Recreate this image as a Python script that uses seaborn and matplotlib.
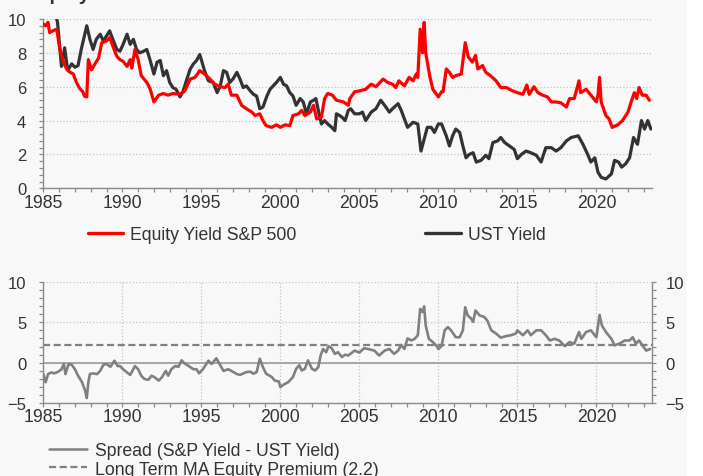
import numpy as np
import pandas as pd
import matplotlib
matplotlib.use("Agg")
import matplotlib.pyplot as plt
import seaborn as sns
from matplotlib.ticker import MultipleLocator
from matplotlib.lines import Line2D
from matplotlib.patches import Rectangle

# ---------------- data ----------------
sp_years = [1985.0, 1985.15, 1985.3, 1985.4, 1985.6, 1985.85, 1986.05, 1986.3, 1986.5, 1986.7,
            1986.9, 1987.1, 1987.3, 1987.5, 1987.6, 1987.75, 1987.85, 1988.05, 1988.3, 1988.5,
            1988.7, 1989.0, 1989.2, 1989.4, 1989.65, 1989.85, 1990.05, 1990.3, 1990.5, 1990.6,
            1990.8, 1991.0, 1991.2, 1991.55, 1991.75, 1992.0, 1992.3, 1992.6, 1992.9, 1993.2,
            1993.65, 1993.95, 1994.3, 1994.6, 1994.9, 1995.2, 1995.55, 1995.85, 1996.2, 1996.5,
            1996.7, 1996.9, 1997.25, 1997.55, 1997.85, 1998.2, 1998.4, 1998.7, 1998.9, 1999.1,
            1999.45, 1999.75, 2000.0, 2000.3, 2000.6, 2000.8, 2001.15, 2001.35, 2001.55, 2001.9,
            2002.1, 2002.3, 2002.6, 2002.8, 2003.0, 2003.3, 2003.55, 2004.0, 2004.3, 2004.4,
            2004.7, 2005.0, 2005.4, 2005.75, 2006.05, 2006.5, 2006.8, 2007.1, 2007.3, 2007.5,
            2007.85, 2008.15, 2008.4, 2008.6, 2008.7, 2008.85, 2009.0, 2009.1, 2009.2, 2009.45,
            2009.65, 2010.0, 2010.2, 2010.3, 2010.5, 2010.7, 2010.9, 2011.1, 2011.45, 2011.7,
            2011.9, 2012.15, 2012.35, 2012.5, 2012.8, 2013.0, 2013.3, 2013.65, 2013.95, 2014.3,
            2014.7, 2015.0, 2015.35, 2015.6, 2015.75, 2016.05, 2016.3, 2016.6, 2016.9, 2017.15,
            2017.45, 2017.75, 2018.1, 2018.3, 2018.6, 2018.7, 2018.9, 2019.0, 2019.35, 2019.65,
            2020.0, 2020.1, 2020.2, 2020.3, 2020.6, 2020.8, 2021.0, 2021.35, 2021.65, 2022.0,
            2022.2, 2022.4, 2022.55, 2022.7, 2022.9, 2023.15, 2023.35]
sp_yield = [9.7, 9.6, 9.8, 9.2, 9.3, 9.4, 8.2, 7.4, 7.0, 6.85,
            6.75, 6.25, 5.9, 5.7, 5.45, 5.4, 7.6, 7.0, 7.4, 7.7,
            8.6, 8.7, 8.9, 8.4, 7.8, 7.6, 7.5, 7.2, 7.6, 7.1,
            8.2, 7.6, 6.65, 6.25, 5.9, 5.1, 5.5, 5.6, 5.5, 5.6,
            5.55, 5.75, 6.45, 6.55, 6.95, 6.75, 6.45, 6.15, 6.0, 5.95,
            6.15, 5.5, 5.5, 4.9, 4.7, 4.5, 4.3, 4.4, 4.0, 3.7,
            3.6, 3.75, 3.6, 3.75, 3.7, 4.3, 4.4, 4.6, 4.3, 4.5,
            4.9, 4.1, 4.2, 5.3, 5.6, 5.5, 5.2, 5.1, 4.9, 5.3,
            5.7, 5.75, 5.85, 6.15, 6.0, 6.45, 6.25, 6.15, 5.95, 6.35,
            6.05, 6.55, 6.35, 6.75, 6.55, 9.4, 8.0, 9.8, 8.0, 6.65,
            5.85, 5.4, 5.7, 5.7, 7.05, 6.85, 6.55, 6.65, 6.75, 8.6,
            7.75, 7.45, 7.85, 7.05, 7.25, 6.85, 6.65, 6.35, 5.95, 5.95,
            5.75, 5.65, 5.55, 6.1, 5.55, 6.0, 5.65, 5.5, 5.4, 5.1,
            5.1, 5.05, 4.8, 5.3, 5.3, 5.65, 6.35, 5.65, 5.85, 5.5,
            5.1, 5.5, 6.55, 5.1, 4.3, 4.1, 3.6, 3.75, 4.0, 4.5,
            5.1, 5.65, 5.3, 5.95, 5.5, 5.5, 5.2]

ust_years = [1985.0, 1985.25, 1985.5, 1985.75, 1985.9, 1986.05, 1986.15, 1986.35, 1986.5, 1986.6,
             1986.8, 1987.0, 1987.2, 1987.4, 1987.6, 1987.75, 1987.95, 1988.15, 1988.35, 1988.6,
             1988.8, 1989.0, 1989.2, 1989.4, 1989.65, 1989.85, 1990.05, 1990.3, 1990.5, 1990.7,
             1990.9, 1991.1, 1991.35, 1991.55, 1991.75, 1992.0, 1992.2, 1992.4, 1992.6, 1992.8,
             1993.0, 1993.2, 1993.4, 1993.65, 1993.85, 1994.05, 1994.3, 1994.5, 1994.7, 1994.9,
             1995.0, 1995.2, 1995.45, 1995.75, 1996.0, 1996.2, 1996.4, 1996.6, 1996.8, 1997.0,
             1997.25, 1997.45, 1997.65, 1997.85, 1998.1, 1998.3, 1998.5, 1998.7, 1998.9, 1999.15,
             1999.35, 1999.55, 1999.75, 2000.0, 2000.2, 2000.4, 2000.6, 2000.8, 2001.0, 2001.25,
             2001.45, 2001.65, 2001.9, 2002.1, 2002.25, 2002.45, 2002.6, 2002.8, 2003.0, 2003.25,
             2003.45, 2003.55, 2003.75, 2003.9, 2004.1, 2004.3, 2004.45, 2004.7, 2005.0, 2005.2,
             2005.4, 2005.75, 2006.05, 2006.35, 2006.6, 2006.9, 2007.1, 2007.45, 2007.65, 2007.85,
             2008.05, 2008.4, 2008.7, 2008.9, 2009.1, 2009.3, 2009.55, 2009.75, 2010.0, 2010.2,
             2010.5, 2010.7, 2010.9, 2011.1, 2011.35, 2011.55, 2011.75, 2011.95, 2012.2, 2012.4,
             2012.7, 2013.0, 2013.2, 2013.45, 2013.75, 2013.95, 2014.2, 2014.5, 2014.8, 2015.0,
             2015.25, 2015.55, 2015.85, 2016.2, 2016.5, 2016.8, 2017.15, 2017.45, 2017.75, 2018.1,
             2018.4, 2018.85, 2019.15, 2019.45, 2019.65, 2019.9, 2020.1, 2020.3, 2020.6, 2020.95,
             2021.15, 2021.4, 2021.6, 2021.85, 2022.1, 2022.35, 2022.6, 2022.85, 2023.05, 2023.25,
             2023.45]
ust_yield = [11.4, 11.6, 10.5, 10.4, 9.8, 8.2, 7.2, 8.3, 7.25, 7.05,
             7.35, 7.15, 7.25, 8.2, 9.0, 9.6, 8.8, 8.2, 8.8, 9.1,
             8.7, 9.0, 9.3, 8.8, 8.2, 8.1, 8.5, 9.1, 8.5, 8.8,
             8.2, 8.0, 8.1, 8.2, 7.6, 6.75, 7.45, 7.55, 6.65, 6.95,
             6.25, 5.95, 5.85, 5.4, 5.75, 6.35, 7.05, 7.35, 7.55, 7.9,
             7.6, 6.95, 6.35, 6.25, 5.65, 6.05, 6.95, 6.85, 6.25, 6.45,
             6.85, 6.45, 5.95, 6.05, 5.75, 5.55, 5.45, 4.7, 4.8, 5.45,
             5.85, 6.05, 6.25, 6.55, 6.15, 6.05, 5.65, 5.45, 4.9, 5.3,
             5.1, 4.4, 5.1, 5.2, 5.3, 4.4, 3.8, 4.0, 3.8, 3.6,
             3.4, 4.4, 4.3, 4.2, 4.0, 4.6, 4.7, 4.4, 4.4, 4.5,
             4.0, 4.5, 4.7, 5.2, 4.9, 4.5, 4.7, 5.0, 4.6, 4.1,
             3.6, 3.9, 3.8, 2.2, 2.9, 3.6, 3.6, 3.3, 3.8, 3.8,
             3.1, 2.5, 3.1, 3.5, 3.3, 2.5, 1.8, 2.0, 2.1, 1.55,
             1.65, 1.95, 1.75, 2.7, 2.8, 3.0, 2.7, 2.5, 2.3, 1.75,
             2.0, 2.2, 2.1, 1.95, 1.55, 2.4, 2.4, 2.2, 2.4, 2.8,
             3.0, 3.1, 2.6, 2.0, 1.55, 1.8, 0.95, 0.65, 0.55, 0.85,
             1.65, 1.55, 1.25, 1.45, 1.8, 3.0, 2.6, 4.0, 3.5, 4.0,
             3.5]

spread_years = [1985.0, 1985.15, 1985.3, 1985.5, 1985.7, 1985.95, 1986.15, 1986.3, 1986.4, 1986.6,
                1986.8, 1987.0, 1987.2, 1987.45, 1987.65, 1987.75, 1987.85, 1987.95, 1988.15, 1988.4,
                1988.6, 1988.8, 1989.0, 1989.25, 1989.5, 1989.7, 1989.85, 1990.05, 1990.3, 1990.5,
                1990.8, 1991.0, 1991.2, 1991.4, 1991.65, 1991.85, 1992.05, 1992.3, 1992.5, 1992.75,
                1992.9, 1993.1, 1993.35, 1993.55, 1993.75, 1993.95, 1994.2, 1994.5, 1994.7, 1994.85,
                1995.1, 1995.45, 1995.65, 1995.95, 1996.15, 1996.4, 1996.7, 1996.9, 1997.25, 1997.45,
                1997.85, 1998.1, 1998.3, 1998.5, 1998.7, 1998.9, 1999.1, 1999.45, 1999.65, 1999.9,
                2000.0, 2000.2, 2000.5, 2000.8, 2001.0, 2001.2, 2001.35, 2001.55, 2001.75, 2002.0,
                2002.2, 2002.4, 2002.55, 2002.7, 2002.9, 2003.05, 2003.25, 2003.45, 2003.65, 2003.9,
                2004.1, 2004.3, 2004.7, 2005.0, 2005.3, 2005.65, 2005.95, 2006.25, 2006.6, 2006.9,
                2007.2, 2007.45, 2007.65, 2007.85, 2008.05, 2008.3, 2008.5, 2008.7, 2008.85, 2009.0,
                2009.1, 2009.2, 2009.4, 2009.65, 2009.9, 2010.0, 2010.2, 2010.4, 2010.6, 2010.8,
                2011.1, 2011.35, 2011.55, 2011.7, 2011.85, 2012.05, 2012.2, 2012.35, 2012.6, 2012.9,
                2013.1, 2013.35, 2013.65, 2013.95, 2014.3, 2014.6, 2014.9, 2015.0, 2015.35, 2015.65,
                2015.85, 2016.2, 2016.5, 2016.8, 2017.05, 2017.35, 2017.65, 2018.0, 2018.3, 2018.6,
                2018.9, 2019.05, 2019.35, 2019.65, 2020.0, 2020.2, 2020.35, 2020.6, 2020.95, 2021.15,
                2021.45, 2021.8, 2022.1, 2022.3, 2022.5, 2022.7, 2022.95, 2023.15, 2023.4]
spread_vals = [-1.4, -2.4, -1.4, -1.2, -1.3, -1.1, -0.8, -0.15, -1.4, -0.15,
               -0.25, -0.8, -1.6, -2.4, -3.45, -4.35, -2.4, -1.4, -1.3, -1.4,
               -1.0, -0.25, -0.15, -0.5, 0.25, -0.4, -0.4, -0.8, -1.2, -1.5,
               -0.4, -0.8, -1.6, -2.0, -2.1, -1.6, -1.8, -2.2, -1.8, -1.0,
               -1.6, -0.8, -0.4, -0.5, 0.3, -0.1, -0.4, -0.8, -0.8, -1.3,
               -0.8, 0.25, -0.15, 0.55, -0.15, -1.0, -0.8, -1.0, -1.4, -1.5,
               -1.15, -1.1, -1.35, -1.15, 0.5, -0.55, -1.35, -1.75, -2.2, -2.3,
               -3.0, -2.7, -2.4, -1.75, -0.75, -0.3, -0.95, -0.75, 0.3, -0.75,
               -0.95, -0.55, 0.9, 1.7, 1.3, 2.05, 1.8, 1.1, 1.3, 0.7,
               1.0, 0.9, 1.5, 1.25, 1.8, 1.65, 1.5, 0.9, 1.5, 1.7,
               1.1, 1.5, 2.2, 1.7, 3.0, 2.75, 2.95, 3.4, 6.65, 6.25,
               6.95, 4.6, 2.95, 2.55, 2.05, 1.7, 2.05, 4.0, 4.4, 4.0,
               3.15, 3.15, 4.0, 6.85, 5.85, 5.5, 5.05, 6.45, 5.85, 5.65,
               5.2, 4.0, 3.6, 3.1, 3.3, 3.4, 3.6, 4.0, 3.4, 4.0,
               3.4, 4.0, 4.0, 3.4, 2.75, 2.95, 2.75, 2.05, 2.55, 2.35,
               3.8, 2.95, 3.8, 4.0, 3.15, 5.9, 4.6, 3.8, 2.95, 2.15,
               2.35, 2.75, 2.75, 3.15, 2.35, 2.75, 2.05, 1.5, 1.7]

premium = 2.2
x_ticks = [1985, 1990, 1995, 2000, 2005, 2010, 2015, 2020]
top_yticks = [0, 2, 4, 6, 8, 10]
bot_yticks = [-5, 0, 5, 10]
labels_top = ["Equity Yield S&P 500", "UST Yield"]
labels_bot = ["Spread (S&P Yield - UST Yield)", "Long Term MA Equity Premium (2.2)"]

# ---------------- style ----------------
sns.set_theme(style="white")
plt.rcParams['font.family'] = ['Liberation Sans', 'DejaVu Sans']

BG = '#f8f8f8'
TXT = '#333333'
SPINE = '#8a8a8a'
GRID = '#c4c4c4'
RED = '#ff0000'
BLACK = '#333333'
GRAY = '#808080'

W, H = 703, 477
fig = plt.figure(figsize=(W / 100, H / 100), dpi=100, facecolor='white')
fig.patches.append(Rectangle((0, 0), 687 / W, 1, transform=fig.transFigure,
                             facecolor=BG, edgecolor='none', zorder=-10))

x0, x1 = 43.3, 651.7
ax1 = fig.add_axes([x0 / W, 1 - 189.3 / H, (x1 - x0) / W, (189.3 - 20.0) / H])
ax2 = fig.add_axes([x0 / W, 1 - 404.3 / H, (x1 - x0) / W, (404.3 - 282.7) / H])

df_sp = pd.DataFrame({"year": sp_years, "value": sp_yield})
df_ust = pd.DataFrame({"year": ust_years, "value": ust_yield})
df_spread = pd.DataFrame({"year": spread_years, "value": spread_vals})

# ---------------- top panel ----------------
sns.lineplot(data=df_ust, x="year", y="value", ax=ax1, color=BLACK, lw=2.3, zorder=3)
sns.lineplot(data=df_sp, x="year", y="value", ax=ax1, color=RED, lw=2.3, zorder=4)

# ---------------- bottom panel ----------------
ax2.axhline(0, color='#a6a6a6', lw=1.4, zorder=1)
ax2.axhline(premium, color=GRAY, lw=1.6, ls=(0, (3.2, 1.6)), zorder=2)
sns.lineplot(data=df_spread, x="year", y="value", ax=ax2, color=GRAY, lw=1.9, zorder=3)

for ax in (ax1, ax2):
    ax.set_facecolor('none')
    ax.set_xlim(1985, 2023.5)
    ax.set_xticks(x_ticks)
    ax.xaxis.set_minor_locator(MultipleLocator(1))
    ax.set_xlabel("")
    ax.set_ylabel("")
    for s in ('top', 'right'):
        ax.spines[s].set_visible(False)
    for s in ('left', 'bottom'):
        ax.spines[s].set_color(SPINE)
        ax.spines[s].set_linewidth(1.0)
    ax.tick_params(axis='both', which='both', direction='out', color=SPINE,
                   length=2.8, width=0.9, labelcolor=TXT, left=True, bottom=True)
    ax.tick_params(axis='y', which='major', labelsize=12, pad=9.5)

ax1.tick_params(axis='x', which='major', labelsize=12.7, pad=1.5)
ax2.tick_params(axis='x', which='major', labelsize=12.7, pad=0.5)

ax1.set_ylim(0, 10)
ax1.set_yticks(top_yticks)
ax1.yaxis.set_minor_locator(MultipleLocator(0.4))
ax1.grid(axis='y', which='major', color=GRID, ls=':', lw=0.9)
ax1.grid(axis='x', visible=False)

ax2.set_ylim(-5, 10)
ax2.set_yticks(bot_yticks)
ax2.yaxis.set_minor_locator(MultipleLocator(1))
ax2.grid(axis='both', which='major', color=GRID, ls=':', lw=0.9)

# right axis of bottom panel
ax2r = ax2.twinx()
ax2r.set_ylim(-5, 10)
ax2r.set_yticks(bot_yticks)
ax2r.yaxis.set_minor_locator(MultipleLocator(1))
for s in ('top', 'left', 'bottom'):
    ax2r.spines[s].set_visible(False)
ax2r.spines['right'].set_color(SPINE)
ax2r.spines['right'].set_linewidth(1.0)
ax2r.tick_params(axis='y', which='both', direction='out', color=SPINE, length=2.8,
                 width=0.9, labelcolor=TXT, right=True)
ax2r.tick_params(axis='y', which='major', labelsize=12, pad=7)
ax2r.grid(False)

# ---------------- legends ----------------
fs_leg = 12.7
h_top = [Line2D([], [], color=RED, lw=2.4), Line2D([], [], color=BLACK, lw=2.4)]
leg1 = fig.legend(h_top, labels_top, loc='center left',
                  bbox_to_anchor=(88 / W, 1 - 236 / H), ncol=2, frameon=False,
                  fontsize=fs_leg, handlelength=2.0, handletextpad=0.4,
                  columnspacing=7.3, borderpad=0, borderaxespad=0)
for t in leg1.get_texts():
    t.set_color(TXT)

h_bot = [Line2D([], [], color=GRAY, lw=1.8),
         Line2D([], [], color=GRAY, lw=1.6, ls=(0, (3.2, 1.6)))]
leg2 = fig.legend(h_bot, labels_bot, loc='center left',
                  bbox_to_anchor=(49 / W, 1 - 460.7 / H), ncol=1, frameon=False,
                  fontsize=fs_leg, handlelength=2.15, handletextpad=0.45,
                  labelspacing=0.1, borderpad=0, borderaxespad=0)
for t in leg2.get_texts():
    t.set_color(TXT)

# title, almost entirely above the visible area as in the reference
fig.text(30 / W, 1 - 0.5 / H, "Equity Yield", fontsize=14, fontweight='bold',
         color=TXT, va='baseline', ha='left')

fig.savefig("out.png", dpi=100, facecolor='white')
